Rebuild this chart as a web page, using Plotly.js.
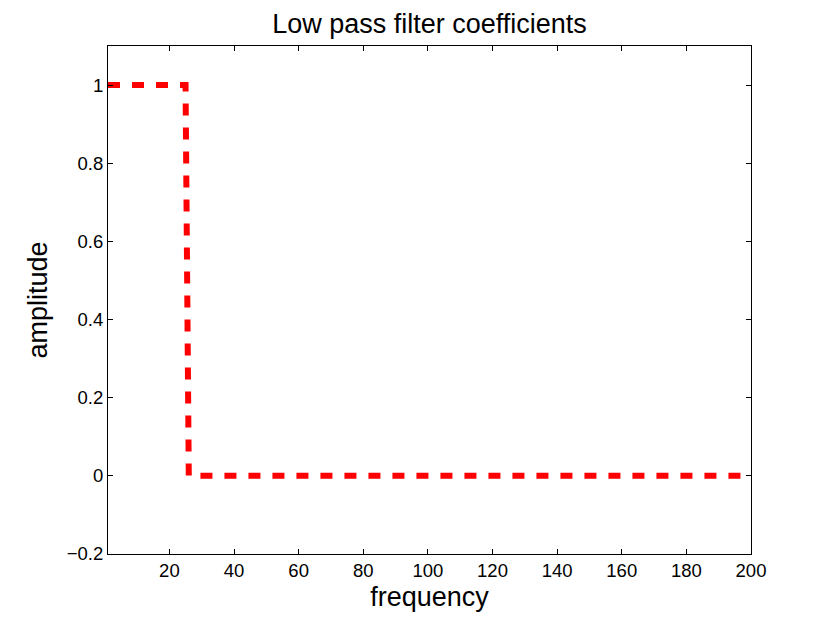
<!DOCTYPE html>
<html>
<head>
<meta charset="utf-8">
<script src="https://cdn.plot.ly/plotly-3.0.1.min.js"></script>
<style>
  body { margin: 0; background: #fff; }
  #chart { width: 830px; height: 623px; }
</style>
</head>
<body>
<div id="chart"></div>
<script>
// filter step: pass band up to 25, stop band from 26
const freq = [1, 25, 26, 200];
const amplitude = [1, 1, 0, 0];
const xTicks = [20, 40, 60, 80, 100, 120, 140, 160, 180, 200];
const yTicks = [-0.2, 0, 0.2, 0.4, 0.6, 0.8, 1];

const trace = {
  x: freq,
  y: amplitude,
  mode: 'lines',
  line: { color: '#ff0000', width: 6, dash: '12px,12px' },
  hoverinfo: 'none'
};

const axisCommon = {
  showgrid: false,
  zeroline: false,
  showline: true,
  linecolor: '#000',
  linewidth: 1,
  mirror: 'ticks',
  ticks: 'inside',
  ticklen: 5,
  tickcolor: '#000',
  tickfont: { family: 'Liberation Sans, Arial, sans-serif', size: 18.5, color: '#000' }
};

const layout = {
  width: 830,
  height: 623,
  paper_bgcolor: '#fff',
  plot_bgcolor: '#fff',
  showlegend: false,
  margin: { l: 108, r: 79, t: 46, b: 69 },
  title: {
    text: 'Low pass filter coefficients',
    font: { family: 'Liberation Sans, Arial, sans-serif', size: 27, color: '#000' },
    xref: 'paper',
    x: 0.5,
    xanchor: 'center',
    y: 0.963,
    yanchor: 'middle'
  },
  xaxis: Object.assign({}, axisCommon, {
    range: [1, 200],
    tickvals: xTicks,
    ticktext: xTicks.map(String),
    title: {
      text: 'frequency',
      font: { family: 'Liberation Sans, Arial, sans-serif', size: 27, color: '#000' },
      standoff: 6
    }
  }),
  yaxis: Object.assign({}, axisCommon, {
    range: [-0.2, 1.1],
    tickvals: yTicks,
    ticktext: yTicks.map(v => v < 0 ? '\u2212' + Math.abs(v) : String(v)),
    title: {
      text: 'amplitude',
      font: { family: 'Liberation Sans, Arial, sans-serif', size: 27, color: '#000' },
      standoff: 11
    }
  })
};

Plotly.newPlot('chart', [trace], layout, { displayModeBar: false, staticPlot: true });
</script>
</body>
</html>
